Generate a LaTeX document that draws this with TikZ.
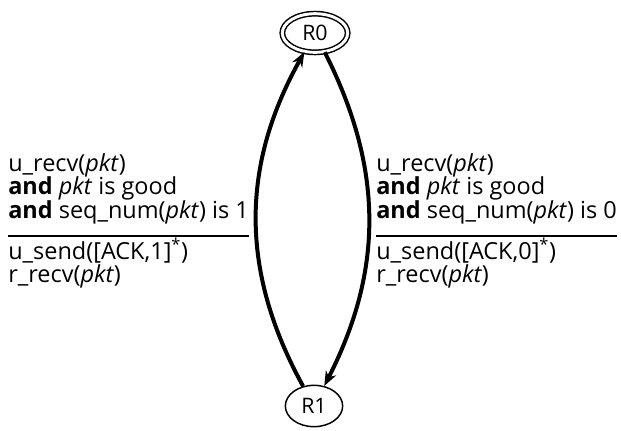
\documentclass[tikz,border=0pt]{standalone}
\usepackage{fontspec}
\setmainfont{Open Sans}
\usetikzlibrary{arrows.meta, positioning, shapes.geometric}

\begin{document}
\begin{tikzpicture}[x=0.75pt, y=-0.75pt,
    state/.style={draw, ellipse, line width=1.1pt, inner sep=0pt,
      minimum width=43pt, minimum height=31pt, font=\fontsize{16}{18}\selectfont},
    trans/.style={line width=3pt, -{Stealth[length=11pt, width=8.5pt, inset=3.5pt]}},
    lbl/.style={align=left, inner sep=0pt, font=\fontsize{17.6}{17.6}\selectfont},
    rule/.style={line width=1.3pt}]
  \useasboundingbox (0, 0) rectangle (621, 430);
  % receiver states
  \node[state, double, double distance=2.2pt, minimum width=49pt,
        minimum height=29pt] (R0) at (315, 33) {R0};
  \node[state] (R1) at (314, 406) {R1};
  % transitions
  \draw[trans] (R1) to[bend left=29] (R0);
  \draw[trans] (R0) to[bend left=27] (R1);
  % left label: condition over action
  \node[lbl, anchor=south west] (condL) at (8, 224)
    {u\_recv(\textit{pkt})\\ \textbf{and} \textit{pkt} is good\\
     \textbf{and} seq\_num(\textit{pkt}) is 1};
  \node[lbl, anchor=north west] (actL) at (8, 238)
    {u\_send([ACK,1]\textsuperscript{*})\\ r\_recv(\textit{pkt})};
  \draw[rule] ([yshift=-9pt]condL.south west) -- ([yshift=-9pt]condL.south east);
  % right label: condition over action
  \node[lbl, anchor=south west] (condR) at (376, 224)
    {u\_recv(\textit{pkt})\\ \textbf{and} \textit{pkt} is good\\
     \textbf{and} seq\_num(\textit{pkt}) is 0};
  \node[lbl, anchor=north west] (actR) at (376, 238)
    {u\_send([ACK,0]\textsuperscript{*})\\ r\_recv(\textit{pkt})};
  \draw[rule] ([yshift=-9pt]condR.south west) -- ([yshift=-9pt]condR.south east);
\end{tikzpicture}
\end{document}
